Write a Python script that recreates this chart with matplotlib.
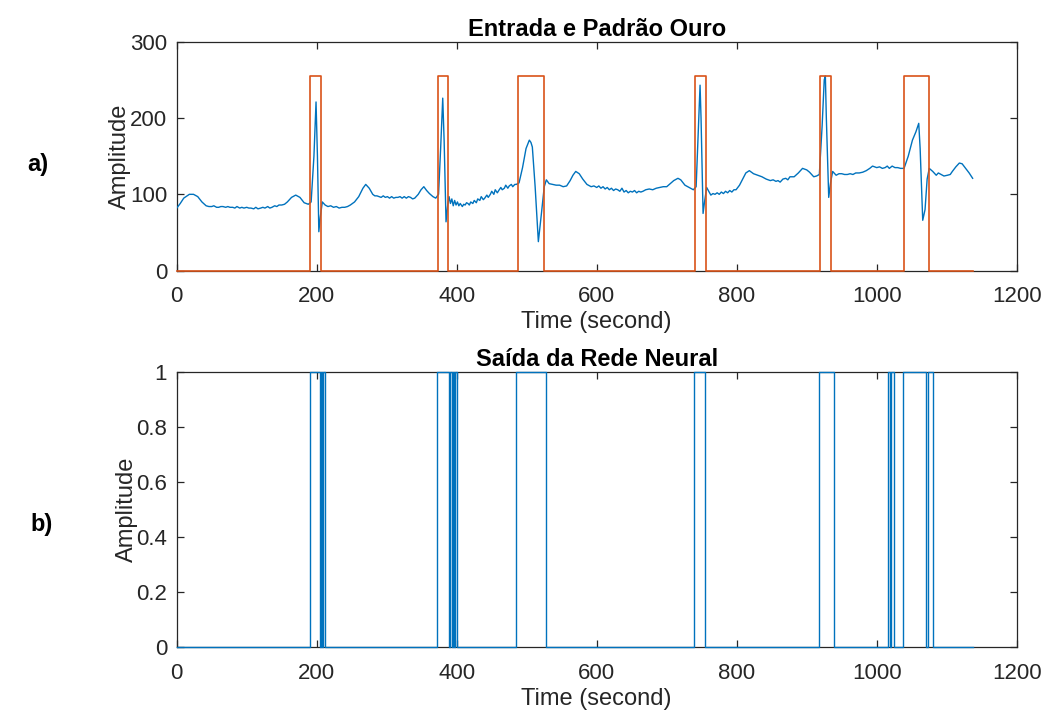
import matplotlib.pyplot as plt

plt.rcParams["font.family"] = ["Liberation Sans", "DejaVu Sans"]

# Input ECG signal as (sample index, amplitude) pairs
ecg_points = [
    (0, 82), (5, 88), (10, 95), (18, 100), (24, 100), (30, 97), (36, 90),
    (42, 85), (46, 84), (50, 84), (53, 85), (57, 83), (60, 83), (63, 84),
    (66, 84), (70, 83), (73, 84), (76, 83), (80, 83), (83, 82), (86, 84),
    (90, 82), (93, 83), (96, 82), (100, 83), (103, 82), (106, 82), (110, 81),
    (113, 83), (116, 81), (120, 82), (123, 83), (126, 82), (130, 84),
    (133, 82), (136, 83), (140, 85), (143, 84), (146, 86), (150, 86),
    (154, 87), (158, 90), (164, 96), (170, 99), (176, 96), (182, 89),
    (188, 87), (192, 90), (196, 150), (199, 221), (201, 150), (203, 51),
    (205, 70), (208, 90), (212, 86), (216, 84), (220, 85), (224, 83),
    (228, 84), (232, 82), (236, 83), (240, 83), (244, 84), (248, 86),
    (254, 90), (260, 97), (266, 108), (270, 113), (275, 108), (280, 100),
    (283, 98), (286, 98), (289, 97), (292, 96), (295, 98), (298, 96),
    (301, 97), (304, 95), (307, 97), (310, 95), (313, 96), (316, 96),
    (319, 97), (322, 95), (325, 97), (328, 95), (331, 97), (334, 96),
    (337, 94), (340, 95), (345, 100), (349, 106), (353, 110), (357, 105),
    (361, 101), (366, 97), (370, 95), (374, 100), (377, 160), (380, 226),
    (382, 170), (384.7, 64), (387, 85), (389, 97), (391, 88), (393, 94),
    (395, 85), (397, 92), (399, 86), (401, 90), (403, 85), (405, 88),
    (408, 84), (410, 87), (412, 86), (414, 89), (416, 88), (418, 86),
    (420, 90), (423, 88), (425, 92), (428, 89), (430, 94), (433, 92),
    (435, 97), (438, 93), (440, 95), (443, 99), (445, 96), (448, 100),
    (450, 104), (453, 100), (455, 106), (458, 102), (460, 105), (463, 109),
    (465, 106), (468, 108), (470, 112), (473, 108), (475, 111), (478, 113),
    (480, 110), (483, 113), (485, 113), (489, 115), (494, 135), (499, 160),
    (503.7, 171), (506, 168), (508, 162), (512, 110), (516.6, 38), (521, 75),
    (525, 110), (528, 119), (532, 114), (537, 113), (542, 112), (547, 112),
    (552, 110), (557, 111), (562, 118), (566, 125), (570, 130), (575, 127),
    (580, 120), (586, 113), (592, 110), (596, 111), (600, 109), (603, 111),
    (606, 108), (609, 110), (612, 107), (615, 109), (618, 106), (621, 108),
    (624, 105), (627, 107), (630, 106), (633, 104), (636, 108), (639, 103),
    (642, 105), (645, 102), (648, 104), (651, 103), (654, 105), (657, 102),
    (660, 104), (663, 103), (666, 104), (670, 106), (675, 107), (680, 106),
    (685, 108), (690, 109), (695, 110), (700, 110), (705, 114), (710, 118),
    (716, 121), (720, 119), (726, 112), (732, 109), (738, 106), (742, 110),
    (745, 180), (747.6, 243), (749, 200), (751.9, 75), (754, 90), (757, 109),
    (760, 104), (763, 99), (766, 101), (769, 100), (772, 102), (775, 100),
    (778, 103), (781, 101), (784, 104), (787, 102), (790, 105), (793, 103),
    (796, 106), (799, 106), (804, 112), (808, 119), (813, 128), (818, 131),
    (824, 127), (830, 125), (836, 123), (842, 120), (848, 118), (852, 119),
    (856, 117), (859, 118), (862, 116), (866, 120), (870, 121), (873, 119),
    (876, 123), (882, 123), (888, 128), (894, 134), (900, 132), (904, 129),
    (910, 123), (914, 124), (918, 126), (922, 190), (925, 250), (926.6, 255),
    (928, 200), (931.4, 96), (934, 115), (937, 130), (942, 125), (946, 127),
    (950, 127), (954, 126), (958, 126), (962, 127), (966, 126), (970, 128),
    (975, 128), (980, 129), (985, 131), (990, 134), (994, 137), (1000, 135),
    (1004, 136), (1008, 134), (1012, 135), (1015, 137), (1018, 134),
    (1022, 137), (1026, 135), (1030, 135), (1034, 134), (1039, 134),
    (1045, 150), (1051, 171), (1056, 182), (1060, 193), (1062, 160),
    (1065.7, 66), (1069, 80), (1072, 120), (1075, 134), (1080, 130),
    (1085, 125), (1088, 128), (1092, 126), (1096, 124), (1101, 125),
    (1105, 126), (1108, 130), (1113, 136), (1118, 141), (1122, 140),
    (1127, 134), (1132, 128), (1137, 121),
]
ecg_t = [p[0] for p in ecg_points]
ecg_amp = [p[1] for p in ecg_points]

# Gold standard annotation: intervals at level 255
gold_on = [190, 373, 488, 740, 919, 1039]
gold_off = [206, 388, 525, 756, 935, 1075]
gold_level = 255

# Neural network output: intervals at level 1
net_on = [190, 206, 209, 372, 391, 394, 397, 485, 739, 918, 1016, 1021, 1038, 1073]
net_off = [204, 208, 212, 389, 393, 396, 400, 528, 755, 939, 1019, 1025, 1070, 1080]

record_end = 1137

BLUE = "#0072BD"
ORANGE = "#D95319"
AXIS = "#262626"


def step_trace(starts, stops, level, end):
    """Vertices of a 0/level square wave built from on/off intervals."""
    xs, ys = [0], [0]
    for a, b in zip(starts, stops):
        xs += [a, a, b, b]
        ys += [0, level, level, 0]
    xs.append(end)
    ys.append(0)
    return xs, ys


def style_axes(ax):
    for spine in ax.spines.values():
        spine.set_color(AXIS)
        spine.set_linewidth(0.9)
    ax.tick_params(direction="in", top=True, right=True, length=5,
                   width=0.9, colors=AXIS, labelsize=16)
    ax.tick_params(axis="x", pad=11)
    ax.tick_params(axis="y", pad=7)
    ax.set_xlim(0, 1200)
    ax.set_xticks(range(0, 1201, 200))
    ax.set_xlabel("Time (second)", fontsize=17, color=AXIS, labelpad=3)
    ax.set_ylabel("Amplitude", fontsize=17, color=AXIS, labelpad=-1)


fig = plt.figure(figsize=(10.47, 7.17), dpi=100)
ax1 = fig.add_axes([0.1688, 0.6225, 0.8023, 0.3194])
ax2 = fig.add_axes([0.1688, 0.0972, 0.8023, 0.3844])

# a) input signal with gold standard
gx, gy = step_trace(gold_on, gold_off, gold_level, record_end)
ax1.plot(ecg_t, ecg_amp, color=BLUE, lw=1.0, zorder=3)
ax1.plot(gx, gy, color=ORANGE, lw=1.2, zorder=4, clip_on=False)
ax1.set_ylim(0, 300)
ax1.set_yticks([0, 100, 200, 300])
style_axes(ax1)
ax1.set_title("Entrada e Padrão Ouro", fontsize=17, fontweight="bold", pad=4)

# b) network output
nx, ny = step_trace(net_on, net_off, 1, record_end)
ax2.plot(nx, ny, color=BLUE, lw=1.0, zorder=4, clip_on=False)
ax2.set_ylim(0, 1)
ax2.set_yticks([0, 0.2, 0.4, 0.6, 0.8, 1])
ax2.set_yticklabels(["0", "0.2", "0.4", "0.6", "0.8", "1"])
style_axes(ax2)
ax2.set_title("Saída da Rede Neural", fontsize=17, fontweight="bold", pad=4)

fig.text(0.036, 1 - 165 / 717, "a)", fontsize=17, fontweight="bold",
         ha="center", va="center")
fig.text(0.040, 1 - 525 / 717, "b)", fontsize=17, fontweight="bold",
         ha="center", va="center")

fig.savefig("out.png", dpi=100)
